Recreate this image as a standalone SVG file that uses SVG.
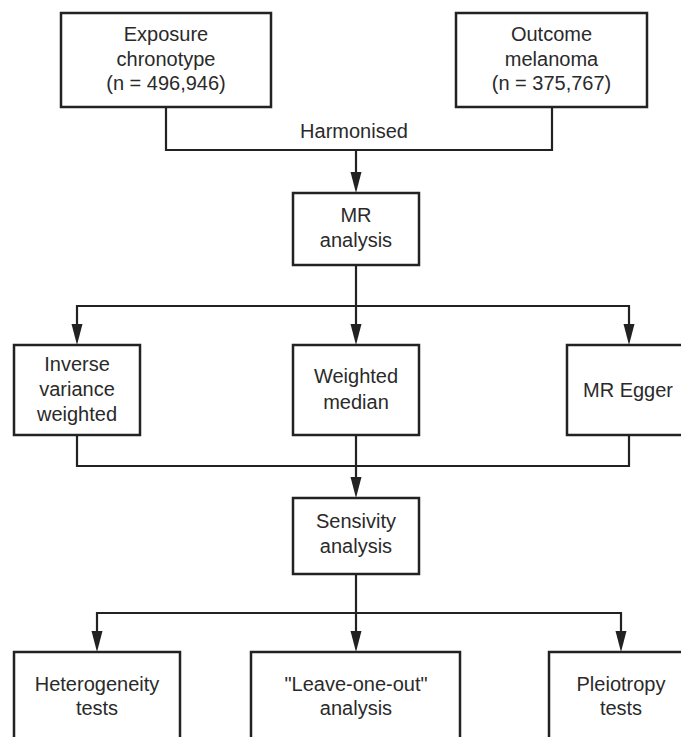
<svg xmlns="http://www.w3.org/2000/svg" width="681" height="737" viewBox="0 0 681 737">
<style>
.box{fill:#fff;stroke:#222;stroke-width:2.5}
.t{font-family:"Liberation Sans",Arial,sans-serif;font-size:20px;fill:#2a2a2a;text-anchor:middle}
.ln{fill:none;stroke:#222;stroke-width:2.2}
</style>
<defs>
<marker id="ah" markerUnits="userSpaceOnUse" markerWidth="12" markerHeight="20" refX="6" refY="20" orient="auto-start-reverse" viewBox="0 0 12 20">
<path d="M0,0 L12,0 L6,20 Z" fill="#222" transform="rotate(0)"/>
</marker>
</defs>
<rect width="681" height="737" fill="#fff"/>
<g id="connectors">
<polyline class="ln" points="166,107 166,150 552,150 552,107"/>
<line class="ln" x1="356" y1="150" x2="356" y2="173"/>
<path d="M350.5,172 L361.5,172 L356,193 Z" fill="#222"/>
<line class="ln" x1="356" y1="265" x2="356" y2="325"/>
<polyline class="ln" points="77,325 77,306 629,306 629,325"/>
<path d="M71.5,324 L82.5,324 L77,345 Z" fill="#222"/>
<path d="M350.5,324 L361.5,324 L356,345 Z" fill="#222"/>
<path d="M623.5,324 L634.5,324 L629,345 Z" fill="#222"/>
<polyline class="ln" points="77,435 77,466 629,466 629,435"/>
<line class="ln" x1="356" y1="435" x2="356" y2="478"/>
<path d="M350.5,477 L361.5,477 L356,498 Z" fill="#222"/>
<line class="ln" x1="356" y1="574" x2="356" y2="632"/>
<polyline class="ln" points="97,632 97,613 621,613 621,632"/>
<path d="M91.5,631 L102.5,631 L97,652 Z" fill="#222"/>
<path d="M350.5,631 L361.5,631 L356,652 Z" fill="#222"/>
<path d="M615.5,631 L626.5,631 L621,652 Z" fill="#222"/>
<text class="t" x="354" y="138">Harmonised</text>
</g>
<g id="exposure">
<rect class="box" x="61" y="13" width="210" height="94"/>
<text class="t" x="166" y="41">Exposure</text>
<text class="t" x="166" y="65.5">chronotype</text>
<text class="t" x="166" y="90">(n = 496,946)</text>
</g>
<g id="outcome">
<rect class="box" x="456" y="13" width="191" height="94"/>
<text class="t" x="551.5" y="41">Outcome</text>
<text class="t" x="551.5" y="65.5">melanoma</text>
<text class="t" x="551.5" y="90">(n = 375,767)</text>
</g>
<g id="mr">
<rect class="box" x="293" y="193" width="126" height="72"/>
<text class="t" x="356" y="222">MR</text>
<text class="t" x="356" y="247">analysis</text>
</g>
<g id="ivw">
<rect class="box" x="14" y="345" width="126" height="90"/>
<text class="t" x="77" y="371">Inverse</text>
<text class="t" x="77" y="396">variance</text>
<text class="t" x="77" y="421">weighted</text>
</g>
<g id="wm">
<rect class="box" x="293" y="345" width="126" height="90"/>
<text class="t" x="356" y="383">Weighted</text>
<text class="t" x="356" y="408.5">median</text>
</g>
<g id="egger">
<rect class="box" x="567" y="345" width="126" height="90"/>
<text class="t" x="628" y="397">MR Egger</text>
</g>
<g id="sens">
<rect class="box" x="293" y="498" width="126" height="76"/>
<text class="t" x="356" y="528">Sensivity</text>
<text class="t" x="356" y="553">analysis</text>
</g>
<g id="het">
<rect class="box" x="14" y="652" width="166" height="100"/>
<text class="t" x="97" y="691">Heterogeneity</text>
<text class="t" x="97" y="715">tests</text>
</g>
<g id="loo">
<rect class="box" x="251" y="652" width="209" height="100"/>
<text class="t" x="356" y="691">"Leave-one-out"</text>
<text class="t" x="356" y="715">analysis</text>
</g>
<g id="pleio">
<rect class="box" x="549" y="652" width="144" height="100"/>
<text class="t" x="621" y="691">Pleiotropy</text>
<text class="t" x="621" y="715">tests</text>
</g>
</svg>
